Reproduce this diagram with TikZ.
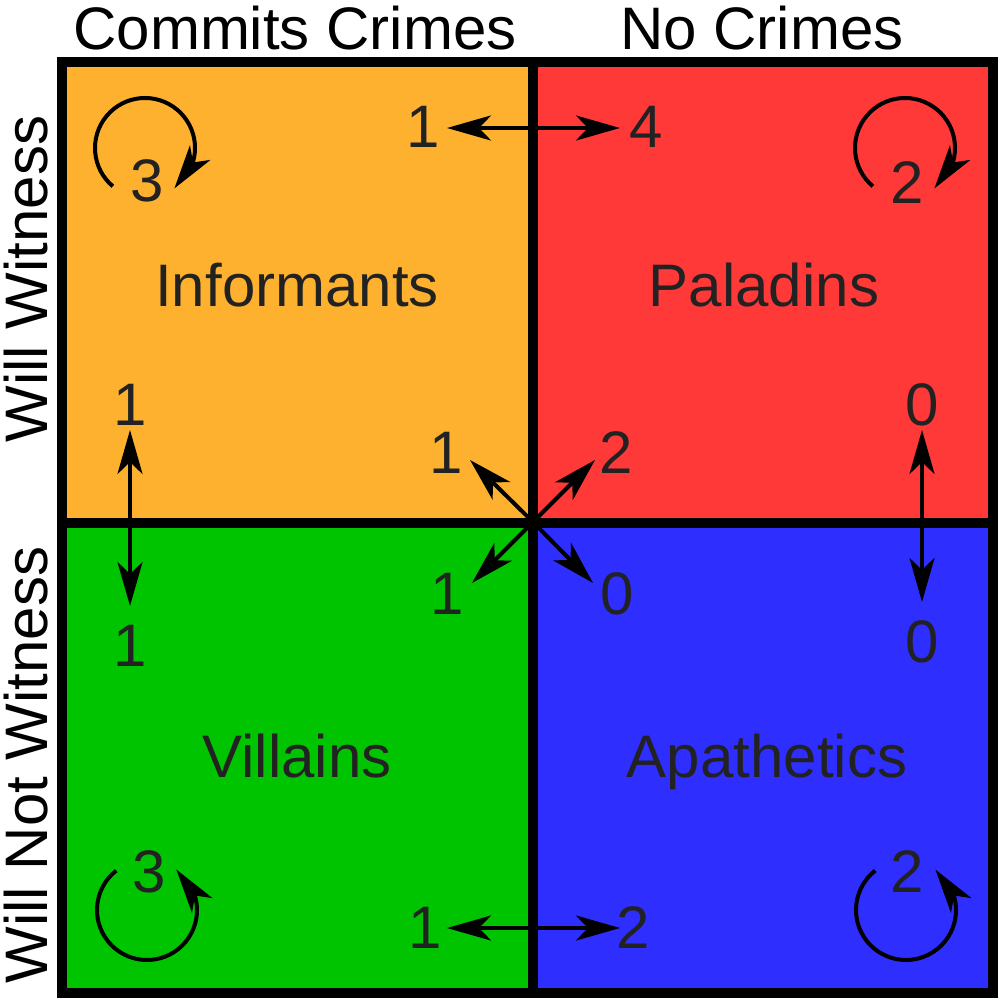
\documentclass[tikz,border=0pt]{standalone}
\usepackage{fontspec}
\setmainfont{Liberation Sans}
\usetikzlibrary{arrows.meta,bending}
\definecolor{corange}{HTML}{FDB12E}
\definecolor{cred}{HTML}{FF3838}
\definecolor{cgreen}{HTML}{00C400}
\definecolor{cblue}{HTML}{2E2EFF}
\definecolor{ctext}{HTML}{222222}
\tikzset{mytip/.tip={Stealth[length=22pt,width=12.5pt,inset=6pt]}}
\begin{document}
\begin{tikzpicture}[x=0.5pt,y=-0.5pt,
  big/.style={font=\fontsize{30pt}{36pt}\selectfont, inner sep=0pt},
  num/.style={big, text=ctext},
  word/.style={big, text=ctext, anchor=base},
  head/.style={big, text=black, anchor=base},
  arr/.style={line width=2pt, -{mytip}},
  darr/.style={line width=2pt, {mytip}-{mytip}},
  loop/.style={line width=2pt, -{Stealth[length=22pt,width=12.5pt,inset=6pt,flex]}},
  frame/.style={line width=4.8pt, black}]
\useasboundingbox (0,0) rectangle (1004,1004);
% cells
\fill[corange] (62,62) rectangle (533,523);
\fill[cred] (533,62) rectangle (993,523);
\fill[cgreen] (62,523) rectangle (533,993);
\fill[cblue] (533,523) rectangle (993,993);
\draw[frame] (62,62) rectangle (993,993);
\draw[frame] (533,62) -- (533,993);
\draw[frame] (62,523) -- (993,523);
% headings
\node[head] (hcc) at (295,50) {Commits Crimes};
\node[head] (hnc) at (762,50) {No Crimes};
\node[head, rotate=90] (hww) at (47,279) {Will Witness};
\node[head, rotate=90] (hwn) at (47,765) {Will Not Witness};
% cell names
\node[word] (inf) at (297,307) {Informants};
\node[word] (pal) at (764,307) {Paladins};
\node[word] (vil) at (297,777) {Villains};
\node[word] (apa) at (767,777) {Apathetics};
% numbers
\node[num] (ti) at (423,127) {1};
\node[num] (tp) at (646,127) {4};
\node[num] (bi) at (425,928) {1};
\node[num] (bp) at (633,928) {2};
\node[num] (li) at (130,405) {1};
\node[num] (lv) at (130,646) {1};
\node[num] (rp) at (922,405) {0};
\node[num] (ra) at (922,642) {0};
\node[num] (ci) at (446,453) {1};
\node[num] (cp) at (616,453) {2};
\node[num] (cv) at (447,594) {1};
\node[num] (ca) at (617,594) {0};
\node[num] (si) at (147,181) {3};
\node[num] (sp) at (907,183) {2};
\node[num] (sv) at (149,872) {3};
\node[num] (sa) at (907,872) {2};
% arrow ends
\coordinate (tiE) at (447,128);
\coordinate (tpE) at (620,128);
\coordinate (biE) at (447,928);
\coordinate (bpE) at (620,928);
\coordinate (liE) at (130,430);
\coordinate (lvE) at (130,606);
\coordinate (rpE) at (922,430);
\coordinate (raE) at (922,602);
\coordinate (ciE) at (470,460);
\coordinate (cpE) at (595,460);
\coordinate (cvE) at (472,583);
\coordinate (caE) at (593,583);
\coordinate (c) at (533,522);
% horizontal and vertical arrows
\draw[darr] (tiE) -- (tpE);
\draw[darr] (biE) -- (bpE);
\draw[darr] (liE) -- (lvE);
\draw[darr] (rpE) -- (raE);
% centre arrows
\draw[arr] (c) -- (ciE);
\draw[arr] (c) -- (cpE);
\draw[arr] (c) -- (cvE);
\draw[arr] (c) -- (caE);
% self loops
\coordinate (oi) at (145,148);
\coordinate (op) at (905,148);
\coordinate (ov) at (147,910);
\coordinate (oa) at (906,910);
\draw[loop] ([shift={(-230:50)}]oi) arc[start angle=-230, end angle=54, radius=50];
\draw[loop] ([shift={(-230:50)}]op) arc[start angle=-230, end angle=54, radius=50];
\draw[loop] ([shift={(-128:50)}]ov) arc[start angle=-128, end angle=-414, radius=50];
\draw[loop] ([shift={(-128:50)}]oa) arc[start angle=-128, end angle=-414, radius=50];
\end{tikzpicture}
\end{document}
